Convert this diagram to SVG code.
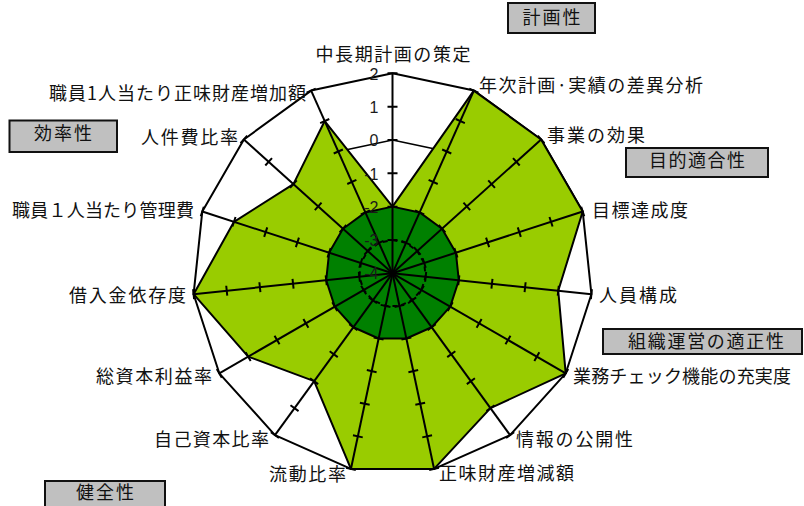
<svg xmlns="http://www.w3.org/2000/svg" xmlns:xlink="http://www.w3.org/1999/xlink" width="804" height="506" viewBox="0 0 804 506">
<style>
.cat{font-family:"Noto Sans CJK JP","Noto Sans CJK SC",sans-serif;font-size:18px;fill:#111}
.box rect{fill:#c0c0c0;stroke:#111;stroke-width:2}
.box text{font-family:"Noto Sans CJK JP","Noto Sans CJK SC",sans-serif;font-size:18px;fill:#111;text-anchor:middle}
.val{font-family:"Liberation Sans",Arial,sans-serif;font-size:16px;fill:#1a1a1a;text-anchor:end}
.ln{fill:none;stroke:#000;stroke-width:2;stroke-linejoin:round}
</style>
<defs>
<g id="spoke">
<line x1="0" y1="0" x2="0" y2="-200" stroke="#000" stroke-width="2"/>
<path d="M-5,-33.33H5M-5,-66.67H5M-5,-100H5M-5,-133.33H5M-5,-166.67H5M-5,-200H5" stroke="#000" stroke-width="2"/>
</g>
</defs>
<rect width="804" height="506" fill="#fff"/>
<g id="chart" transform="translate(392.5,273.3)">
<polygon id="outer" class="ln" fill="#fff" points="0,-200 81.35,-182.71 148.63,-133.83 190.21,-61.80 198.90,20.91 173.21,100 117.56,161.80 41.58,195.63 -41.58,195.63 -117.56,161.80 -173.21,100 -198.90,20.91 -190.21,-61.80 -148.63,-133.83 -81.35,-182.71"/>
<polygon id="grid0" fill="none" stroke="#000" stroke-width="1.5" points="0,-133.33 54.23,-121.81 99.09,-89.22 126.81,-41.20 132.60,13.94 115.47,66.67 78.37,107.87 27.72,130.42 -27.72,130.42 -78.37,107.87 -115.47,66.67 -132.60,13.94 -126.81,-41.20 -99.09,-89.22 -54.23,-121.81"/>
<polygon id="data" class="ln" style="fill:#99cc00" points="0,-66.67 81.35,-182.71 148.63,-133.83 190.21,-61.80 165.75,17.42 173.21,100 97.97,134.83 41.58,195.63 -41.58,195.63 -78.37,107.87 -144.34,83.33 -198.90,20.91 -158.51,-51.50 -99.09,-89.22 -67.79,-152.26"/>
<polygon id="base" class="ln" style="fill:#008000" points="0,-66.67 27.12,-60.90 49.54,-44.61 63.40,-20.60 66.30,6.97 57.74,33.33 39.19,53.93 13.86,65.21 -13.86,65.21 -39.19,53.93 -57.74,33.33 -66.30,6.97 -63.40,-20.60 -49.54,-44.61 -27.12,-60.90"/>
<polygon id="dash" class="ln" stroke-dasharray="5,4" points="0,-33.33 13.56,-30.45 24.77,-22.31 31.70,-10.30 33.15,3.49 28.87,16.67 19.59,26.97 6.93,32.61 -6.93,32.61 -19.59,26.97 -28.87,16.67 -33.15,3.49 -31.70,-10.30 -24.77,-22.31 -13.56,-30.45"/>
<g id="spokes">
<use xlink:href="#spoke" href="#spoke"/>
<use xlink:href="#spoke" href="#spoke" transform="rotate(24)"/>
<use xlink:href="#spoke" href="#spoke" transform="rotate(48)"/>
<use xlink:href="#spoke" href="#spoke" transform="rotate(72)"/>
<use xlink:href="#spoke" href="#spoke" transform="rotate(96)"/>
<use xlink:href="#spoke" href="#spoke" transform="rotate(120)"/>
<use xlink:href="#spoke" href="#spoke" transform="rotate(144)"/>
<use xlink:href="#spoke" href="#spoke" transform="rotate(168)"/>
<use xlink:href="#spoke" href="#spoke" transform="rotate(192)"/>
<use xlink:href="#spoke" href="#spoke" transform="rotate(216)"/>
<use xlink:href="#spoke" href="#spoke" transform="rotate(240)"/>
<use xlink:href="#spoke" href="#spoke" transform="rotate(264)"/>
<use xlink:href="#spoke" href="#spoke" transform="rotate(288)"/>
<use xlink:href="#spoke" href="#spoke" transform="rotate(312)"/>
<use xlink:href="#spoke" href="#spoke" transform="rotate(336)"/>
</g>
<g id="values">
<text class="val" x="-14" y="-193.5">2</text>
<text class="val" x="-14" y="-160.5">1</text>
<text class="val" x="-14" y="-127">0</text>
<text class="val" x="-14" y="-93.5">-1</text>
<text class="val" x="-14" y="-60.5">-2</text>
<text class="val" x="-14" y="-27">-3</text>
<text class="val" x="-14" y="6">-4</text>
</g>
</g>
<g id="labels">
<text class="cat" x="393" y="61" text-anchor="middle" textLength="155" lengthAdjust="spacing">中長期計画の策定</text>
<text class="cat" x="479" y="92" textLength="224" lengthAdjust="spacing">年次計画·実績の差異分析</text>
<text class="cat" x="547" y="142" textLength="98" lengthAdjust="spacing">事業の効果</text>
<text class="cat" x="592" y="217" textLength="96" lengthAdjust="spacing">目標達成度</text>
<text class="cat" x="599" y="302" textLength="78" lengthAdjust="spacing">人員構成</text>
<text class="cat" x="573" y="383" textLength="218" lengthAdjust="spacing">業務チェック機能の充実度</text>
<text class="cat" x="516" y="446" textLength="117" lengthAdjust="spacing">情報の公開性</text>
<text class="cat" x="439" y="480" textLength="135" lengthAdjust="spacing">正味財産増減額</text>
<text class="cat" x="269" y="481" textLength="77" lengthAdjust="spacing">流動比率</text>
<text class="cat" x="154" y="446" textLength="115" lengthAdjust="spacing">自己資本比率</text>
<text class="cat" x="96" y="383" textLength="116" lengthAdjust="spacing">総資本利益率</text>
<text class="cat" x="69" y="302" textLength="117" lengthAdjust="spacing">借入金依存度</text>
<text class="cat" x="12" y="217" textLength="182" lengthAdjust="spacing">職員１人当たり管理費</text>
<text class="cat" x="141" y="144" textLength="97" lengthAdjust="spacing">人件費比率</text>
<text class="cat" x="49" y="100" textLength="257" lengthAdjust="spacing">職員1人当たり正味財産増加額</text>
</g>
<g id="box-keikaku" class="box"><rect x="508" y="3" width="87" height="30"/><text x="551.5" y="24" textLength="58" lengthAdjust="spacing">計画性</text></g>
<g id="box-kouritsu" class="box"><rect x="9.5" y="120.5" width="107.5" height="31.5"/><text x="63" y="139.5" textLength="58" lengthAdjust="spacing">効率性</text></g>
<g id="box-mokuteki" class="box"><rect x="626" y="148" width="142" height="29"/><text x="697" y="167" textLength="96" lengthAdjust="spacing">目的適合性</text></g>
<g id="box-soshiki" class="box"><rect x="603" y="329" width="199" height="25"/><text x="706" y="348" textLength="156" lengthAdjust="spacing">組織運営の適正性</text></g>
<g id="box-kenzen" class="box"><rect x="45" y="481" width="120" height="30"/><text x="105" y="499" textLength="58" lengthAdjust="spacing">健全性</text></g>
</svg>
